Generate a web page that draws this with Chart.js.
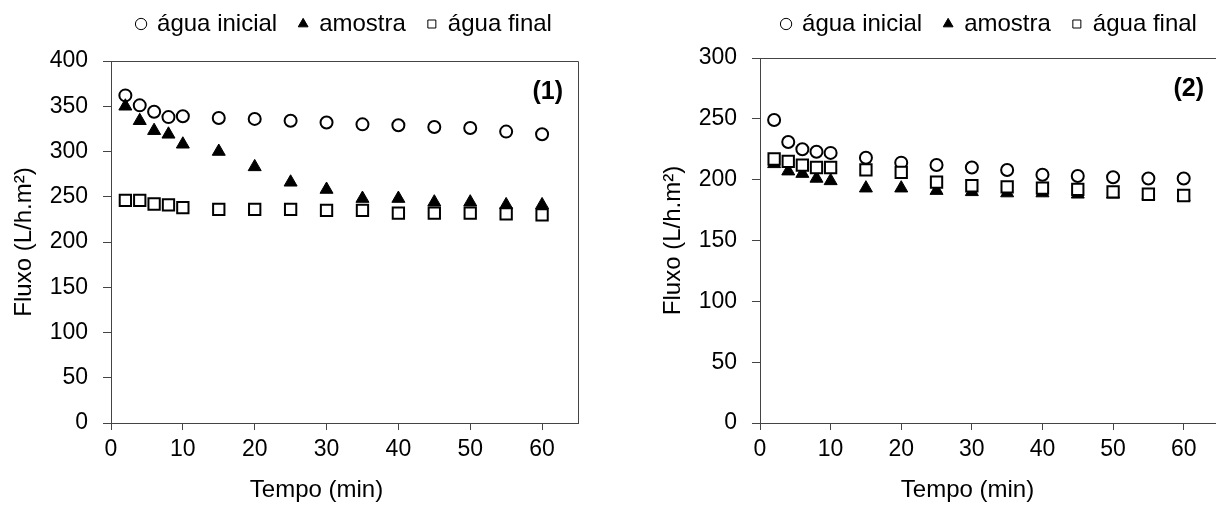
<!DOCTYPE html>
<html>
<head>
<meta charset="utf-8">
<script src="https://cdn.jsdelivr.net/npm/chart.js@4/dist/chart.umd.min.js"></script>
<style>
  html, body { margin: 0; padding: 0; background: #fff; overflow: hidden; }
  #box1 { position: absolute; left: 0; top: 0; width: 600px; height: 513px; }
  #box2 { position: absolute; left: 600px; top: 0; width: 640px; height: 513px; }
</style>
</head>
<body>
<div id="box1"><canvas id="chart1" width="600" height="513"></canvas></div>
<div id="box2"><canvas id="chart2" width="640" height="513"></canvas></div>
<script>
const tempo = [2, 4, 6, 8, 10, 15, 20, 25, 30, 35, 40, 45, 50, 55, 60];

// grafico (1)
const inicial1 = [362, 351, 344, 338, 339, 337, 336, 334, 332, 330, 329, 327, 326, 322, 319];
const amostra1 = [350, 334, 323, 319, 308, 300, 283, 266, 258, 248, 248, 244, 244, 241, 241];
const final1   = [246, 246, 242, 241, 238, 236, 236, 236, 235, 235, 232, 232, 232, 231, 230];

// grafico (2)
const inicial2 = [249, 231, 225, 223, 222, 218, 214, 212, 210, 208, 204, 203, 202, 201, 201];
const amostra2 = [213, 207, 205, 201, 199, 193, 193, 191, 190, 189, 189, 188, 188, 187, 186];
const final2   = [217, 215, 212, 210, 210, 208, 206, 198, 195, 194, 193, 192, 190, 188, 187];

const labelsLegenda = ['água inicial', 'amostra', 'água final'];
const tituloX = 'Tempo (min)';
const tituloY = 'Fluxo (L/h.m²)';
const FONT = '"Liberation Sans", Arial, sans-serif';
const AXIS = '#444';

const toXY = (vals) => vals.map((v, i) => ({ x: tempo[i], y: v }));

// moldura de cima/direita, etiqueta (1)/(2) e titulo do eixo x
const framePlugin = {
  id: 'frame',
  afterDraw: (chart) => {
    const ctx = chart.ctx;
    const a = chart.chartArea;
    const o = chart.options.plugins.frame;
    const top = Math.round(a.top) + 0.5;
    const right = Math.round(a.right) + 0.5;
    ctx.save();
    ctx.strokeStyle = AXIS;
    ctx.lineWidth = 1;
    ctx.beginPath();
    ctx.moveTo(a.left, top);
    ctx.lineTo(right, top);
    ctx.lineTo(right, a.bottom);
    ctx.stroke();
    ctx.fillStyle = '#000';
    ctx.textBaseline = 'middle';
    ctx.font = 'bold 25px ' + FONT;
    ctx.textAlign = 'right';
    ctx.fillText(o.tag, a.right - 15, a.top + 31);
    ctx.font = '24px ' + FONT;
    ctx.textAlign = 'center';
    ctx.fillText(tituloX, (a.left + a.right) / 2 + o.shift, chart.height - 23);
    ctx.restore();
  }
};

const legendHeight = {
  id: 'legendHeight',
  beforeInit: (chart) => {
    const fit = chart.legend.fit;
    chart.legend.fit = function () {
      fit.bind(chart.legend)();
      this.height = chart.options.plugins.legendHeight.h;
    };
  }
};

function makeChart(id, inicial, amostra, final, yMax, yWidth, titlePad, tag, topH, padRight, shift) {
  const ctx = document.getElementById(id).getContext('2d');
  return new Chart(ctx, {
    type: 'scatter',
    data: {
      datasets: [
        {
          order: 2,
          label: labelsLegenda[0],
          data: toXY(inicial),
          pointStyle: 'circle',
          pointRadius: 6,
          borderWidth: 2,
          borderColor: '#000',
          backgroundColor: '#fff'
        },
        {
          order: 1,
          label: labelsLegenda[1],
          data: toXY(amostra),
          pointStyle: 'triangle',
          pointRadius: 7.5,
          borderWidth: 1,
          borderColor: '#000',
          backgroundColor: '#000'
        },
        {
          order: 0,
          label: labelsLegenda[2],
          data: toXY(final),
          pointStyle: 'rect',
          pointRadius: 8,
          borderWidth: 2,
          borderColor: '#000',
          backgroundColor: '#fff'
        }
      ]
    },
    options: {
      responsive: false,
      animation: false,
      devicePixelRatio: 1,
      layout: { padding: { left: 0, right: padRight, top: -10, bottom: 0 } },
      plugins: {
        tooltip: { enabled: false },
        frame: { tag: tag, shift: shift },
        legendHeight: { h: topH + 10 },
        legend: {
          position: 'top',
          align: 'center',
          fullSize: false,
          labels: {
            usePointStyle: true,
            boxWidth: 8,
            boxHeight: 8,
            padding: 22,
            color: '#000',
            font: { family: FONT, size: 24 },
            sort: (a, b) => a.datasetIndex - b.datasetIndex,
            generateLabels: (chart) => {
              const items = Chart.defaults.plugins.legend.labels.generateLabels(chart);
              items.forEach((it) => { it.lineWidth = 1; });
              return items;
            }
          }
        }
      },
      scales: {
        x: {
          type: 'linear',
          min: 0,
          max: 65,
          afterFit: (scale) => { scale.height = 90; },
          grid: { drawOnChartArea: false, drawTicks: true, tickLength: 7, color: AXIS },
          border: { color: AXIS, width: 1 },
          ticks: {
            stepSize: 10,
            includeBounds: false,
            padding: 6,
            color: '#000',
            font: { family: FONT, size: 23 }
          }
        },
        y: {
          min: 0,
          max: yMax,
          afterFit: (scale) => { scale.width = yWidth; },
          grid: { drawOnChartArea: false, drawTicks: true, tickLength: 8, color: AXIS },
          border: { color: AXIS, width: 1 },
          ticks: {
            stepSize: 50,
            padding: 15,
            color: '#000',
            font: { family: FONT, size: 23 }
          },
          title: {
            display: true,
            text: tituloY,
            color: '#000',
            font: { family: FONT, size: 24 },
            padding: { top: titlePad, bottom: 0 }
          }
        }
      }
    },
    plugins: [framePlugin, legendHeight]
  });
}

makeChart('chart1', inicial1, amostra1, final1, 400, 111, 10, '(1)', 61, 22, -28);
makeChart('chart2', inicial2, amostra2, final2, 300, 160, 59, '(2)', 58, 21, -22);
</script>
</body>
</html>
